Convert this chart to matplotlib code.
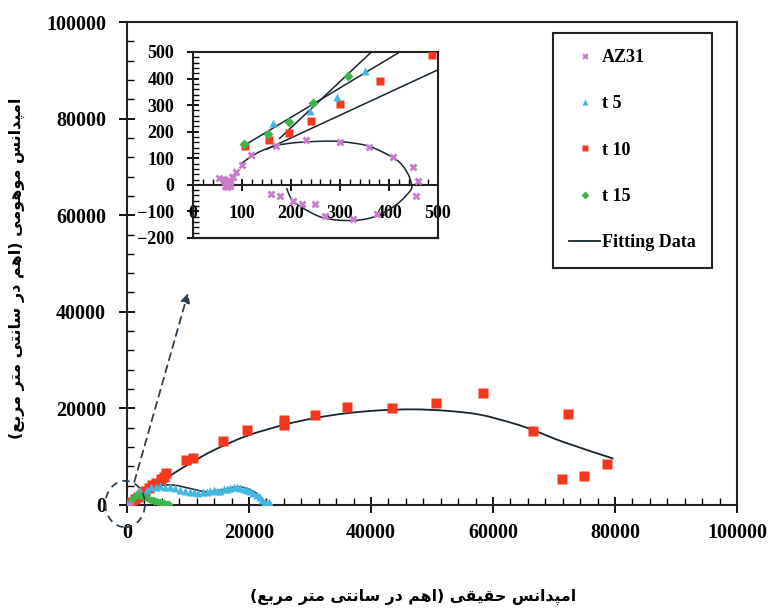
import matplotlib
matplotlib.use("Agg")
import matplotlib.pyplot as plt
from matplotlib.patches import Ellipse, PathPatch
from matplotlib.path import Path
from matplotlib.ticker import MultipleLocator, AutoMinorLocator
from matplotlib.lines import Line2D

# ---------------- data ----------------
az31_x = [54, 62, 65, 66, 68, 70, 71, 72, 73, 75, 75, 76, 79, 82, 88, 99, 119, 170, 231, 301, 360, 409,
          449, 460, 456, 375, 327, 269, 249, 222, 205, 178, 160]
az31_y = [26, 21, 19, -3, 9, -8, 6, 12, -1, 3, 14, -5, 28, 29, 48, 73, 111, 147, 167, 163, 142, 103,
          66, 13, -42, -111, -130, -117, -73, -73, -61, -42, -35]

t5_x = [163, 238, 294, 352, 1500, 2200, 3200, 4000, 4700, 5400, 6200, 7000, 7800, 8700, 9500, 10300,
        11000, 11700, 12400, 13100, 13600, 14200, 14700, 15300, 15900, 16400, 16900, 17500, 18000,
        18500, 19100, 19600, 20200, 20700, 21300, 21800, 22100, 22600, 22900, 23200, 23500]
t5_y = [232, 278, 330, 428, 2200, 2900, 3100, 3700, 3800, 3900, 3800, 3700, 3500, 3200, 3000, 2700,
        2600, 2500, 2700, 2700, 2800, 3100, 3000, 2950, 3300, 3400, 3500, 3800, 3700, 3500, 3400,
        3200, 2800, 2400, 2100, 1600, 1000, 600, 300, 700, 200]

t10_x = [107, 155, 196, 240, 301, 381, 488, 800, 1300, 1800, 2400, 3000, 3600, 4100, 4800, 5500, 6100,
         6400, 9700, 10800, 15700, 19700, 25700, 25700, 30800, 36000, 43400, 50600, 58400, 66600,
         72300, 71300, 74900, 78700]
t10_y = [145, 170, 196, 242, 305, 389, 487, 700, 1200, 1700, 2200, 2800, 3500, 4100, 4500, 5300, 5800,
         6600, 9300, 9700, 13200, 15500, 16500, 17700, 18600, 20200, 20000, 21200, 23100, 15300,
         18800, 5400, 6000, 8500]

t15_x = [105, 153, 196, 245, 317, 600, 900, 1200, 1500, 1800, 2100, 2400, 2700, 3000, 3300, 3600,
         3900, 4200, 4500, 4800, 5100, 5400, 5700, 6000, 6300, 6600, 6900]
t15_y = [152, 192, 236, 309, 410, 900, 1300, 1600, 1900, 2000, 2100, 1900, 1700, 1600, 1400, 1300,
         1100, 1000, 900, 800, 700, 600, 500, 400, 300, 250, 150]

# fitted curves (main plot)
fit10_x = [2000, 4860, 7600, 10870, 14150, 19620, 25740, 30820, 36010, 41480, 46940, 52400, 57870,
           63330, 66610, 71530, 79730]
fit10_y = [2000, 4120, 6500, 9000, 11300, 14300, 16600, 18000, 19000, 19600, 19800, 19500, 18700,
           16900, 15500, 13050, 9600]
fit5_x = [1500, 2130, 4860, 7600, 10330, 13060, 15800, 17980, 19620, 21260, 22350, 22900]
fit5_y = [2200, 2740, 3920, 4120, 3430, 2740, 3230, 3780, 3430, 2400, 1030, 0]

# fitted curves (inset)
fit15_in_x = [106, 422]
fit15_in_y = [150, 500]
fit5_in_x = [177, 364]
fit5_in_y = [175, 500]
fit10_in_x = [150, 500]
fit10_in_y = [134, 433]
fitaz_in_x = [100, 120, 140, 170, 200, 218, 259, 300, 354, 395, 422, 439, 446, 443, 416, 375, 327,
              266, 218, 200, 191]
fitaz_in_y = [82, 108, 128, 148, 157, 160, 164, 163, 148, 116, 84, 40, 0, -23, -73, -117, -134,
              -124, -80, -50, -12]

main_ticks = [0, 20000, 40000, 60000, 80000, 100000]
inset_xticks = [0, 100, 200, 300, 400, 500]
inset_yticks = [-200, -100, 0, 100, 200, 300, 400, 500]
legend_labels = ["AZ31", "t 5", "t 10", "t 15", "Fitting Data"]

xlabel_fa = "امپدانس حقیقی (اهم در سانتی متر مربع)"
ylabel_fa = "امپدانس موهومی (اهم در سانتی متر مربع)"

# ---------------- simple Arabic-script shaping ----------------
AR_FORMS = {
    '\u0627': ('\uFE8D', '\uFE8E', None, None),
    '\u0628': ('\uFE8F', '\uFE90', '\uFE91', '\uFE92'),
    '\u062A': ('\uFE95', '\uFE96', '\uFE97', '\uFE98'),
    '\u062D': ('\uFEA1', '\uFEA2', '\uFEA3', '\uFEA4'),
    '\u062F': ('\uFEA9', '\uFEAA', None, None),
    '\u0631': ('\uFEAD', '\uFEAE', None, None),
    '\u0633': ('\uFEB1', '\uFEB2', '\uFEB3', '\uFEB4'),
    '\u0639': ('\uFEC9', '\uFECA', '\uFECB', '\uFECC'),
    '\u0642': ('\uFED5', '\uFED6', '\uFED7', '\uFED8'),
    '\u0645': ('\uFEE1', '\uFEE2', '\uFEE3', '\uFEE4'),
    '\u0646': ('\uFEE5', '\uFEE6', '\uFEE7', '\uFEE8'),
    '\u0647': ('\uFEE9', '\uFEEA', '\uFEEB', '\uFEEC'),
    '\u0648': ('\uFEED', '\uFEEE', None, None),
    '\u067E': ('\uFB56', '\uFB57', '\uFB58', '\uFB59'),
    '\u06CC': ('\uFBFC', '\uFBFD', '\uFBFE', '\uFBFF'),
}
RIGHT_ONLY = set('\u0627\u062F\u0631\u0648')


def shape_rtl(s):
    out = []
    n = len(s)
    for i, c in enumerate(s):
        if c not in AR_FORMS:
            out.append(c)
            continue
        prev = s[i - 1] if i > 0 else ''
        nxt = s[i + 1] if i < n - 1 else ''
        pj = prev in AR_FORMS and prev not in RIGHT_ONLY
        nj = nxt in AR_FORMS and c not in RIGHT_ONLY
        iso, fin, ini, med = AR_FORMS[c]
        if pj and nj:
            out.append(med)
        elif pj:
            out.append(fin)
        elif nj:
            out.append(ini)
        else:
            out.append(iso)
    vis = ''.join(out)[::-1]
    return vis.translate(str.maketrans('()', ')('))


def smooth_curve(axis, xs, ys, **kw):
    """Draw a smoothed line (like a spreadsheet 'smoothed line') through the given points."""
    pts = list(zip(xs, ys))
    n = len(pts)
    verts = [pts[0]]
    codes = [Path.MOVETO]
    for i in range(n - 1):
        p0 = pts[i - 1] if i > 0 else pts[i]
        p1 = pts[i]
        p2 = pts[i + 1]
        p3 = pts[i + 2] if i + 2 < n else pts[i + 1]
        c1 = (p1[0] + (p2[0] - p0[0]) / 6, p1[1] + (p2[1] - p0[1]) / 6)
        c2 = (p2[0] - (p3[0] - p1[0]) / 6, p2[1] - (p3[1] - p1[1]) / 6)
        verts += [c1, c2, p2]
        codes += [Path.CURVE4] * 3
    patch = PathPatch(Path(verts, codes), fill=False, **kw)
    axis.add_patch(patch)
    return patch


# ---------------- style ----------------
SERIF = ['Liberation Serif', 'DejaVu Serif']
plt.rcParams['font.family'] = SERIF
plt.rcParams['font.weight'] = 'bold'

C_AZ = '#C77DC9'
C_T5 = '#42B7E2'
C_T10 = '#F5371E'
C_T15 = '#3DB64B'
C_FIT = '#16252E'
C_DASH = '#2E4050'

W, H = 778, 611
fig = plt.figure(figsize=(W / 100, H / 100), dpi=100)

# main axes
ax = fig.add_axes([127 / W, 1 - 505 / H, 610 / W, 483 / H])
ax.set_xlim(0, 100000)
ax.set_ylim(0, 100000)
ax.set_xticks(main_ticks)
ax.set_yticks(main_ticks)
ax.xaxis.set_minor_locator(AutoMinorLocator(7))
ax.yaxis.set_minor_locator(AutoMinorLocator(5))
ax.tick_params(which='major', direction='inout', length=12, width=1.3, labelsize=14.5, pad=7)
ax.tick_params(axis='y', which='major', pad=9)
ax.tick_params(which='minor', direction='in', length=5, width=1.0)
for sp in ax.spines.values():
    sp.set_linewidth(1.5)
    sp.set_color('#222222')
for lab in ax.get_xticklabels() + ax.get_yticklabels():
    lab.set_fontweight('bold')

smooth_curve(ax, fit10_x, fit10_y, ec=C_FIT, lw=1.3, zorder=3)
smooth_curve(ax, fit5_x, fit5_y, ec=C_FIT, lw=1.1, zorder=3)
ax.plot(t10_x, t10_y, 's', color=C_T10, ms=6.5, mec='none', zorder=4)
ax.plot(t5_x, t5_y, '^', color=C_T5, ms=5.5, mec='none', zorder=4)
ax.plot(t15_x, t15_y, 'D', color=C_T15, ms=4.5, mec='none', zorder=5)
ax.plot(az31_x, az31_y, 'X', color=C_AZ, ms=5, mec='none', zorder=5)

# dashed circle and arrow
circ = Ellipse((-300, 200), width=6500, height=9600, fill=False, ls=(0, (4, 3)),
               lw=1.3, ec=C_DASH, clip_on=False, zorder=6)
ax.add_patch(circ)
ax.annotate('', xy=(10000, 43900), xytext=(1200, 4800),
            arrowprops=dict(arrowstyle='-|>', ls=(0, (4, 3)), lw=1.3, color=C_DASH,
                            mutation_scale=14, shrinkA=0, shrinkB=0), zorder=6)

# inset
ins = fig.add_axes([193 / W, 1 - 238 / H, 245 / W, 186 / H])
ins.set_xlim(0, 500)
ins.set_ylim(-200, 500)
ins.set_xticks(inset_xticks)
ins.set_yticks(inset_yticks)
ins.xaxis.set_minor_locator(MultipleLocator(20))
ins.yaxis.set_minor_locator(MultipleLocator(20))
ins.spines['bottom'].set_position(('data', 0))
for sp in ins.spines.values():
    sp.set_linewidth(1.5)
    sp.set_color('#222222')
ins.axhline(-200, color='#222222', lw=1.6, clip_on=False, zorder=10)
ins.tick_params(which='major', direction='inout', length=9, width=1.3, labelsize=13)
ins.tick_params(axis='x', which='major', pad=10)
ins.tick_params(axis='y', which='major', pad=9)
ins.tick_params(which='minor', direction='in', length=4, width=1.0)
for lab in ins.get_xticklabels() + ins.get_yticklabels():
    lab.set_fontweight('bold')

ins.plot(fit15_in_x, fit15_in_y, color=C_FIT, lw=1.1, zorder=3)
ins.plot(fit5_in_x, fit5_in_y, color=C_FIT, lw=1.1, zorder=3)
ins.plot(fit10_in_x, fit10_in_y, color=C_FIT, lw=1.1, zorder=3)
smooth_curve(ins, fitaz_in_x, fitaz_in_y, ec=C_FIT, lw=1.1, zorder=3)
ins.plot(t10_x, t10_y, 's', color=C_T10, ms=6, mec='none', zorder=4)
ins.plot(t5_x, t5_y, '^', color=C_T5, ms=6, mec='none', zorder=4)
ins.plot(t15_x, t15_y, 'D', color=C_T15, ms=5, mec='none', zorder=5)
ins.plot(az31_x, az31_y, 'X', color=C_AZ, ms=6, mec='none', zorder=5)

# legend
handles = [
    Line2D([], [], ls='none', marker='X', color=C_AZ, ms=5, mec='none'),
    Line2D([], [], ls='none', marker='^', color=C_T5, ms=5, mec='none'),
    Line2D([], [], ls='none', marker='s', color=C_T10, ms=5, mec='none'),
    Line2D([], [], ls='none', marker='D', color=C_T15, ms=4, mec='none'),
    Line2D([], [], color=C_FIT, lw=1.3),
]
leg = fig.legend(handles, legend_labels, loc='upper left',
                 bbox_to_anchor=(553 / W, 1 - 33 / H), bbox_transform=fig.transFigure,
                 prop=dict(family=SERIF, weight='bold', size=13),
                 frameon=True, fancybox=False, edgecolor='#222222', framealpha=1,
                 labelspacing=1.62, handlelength=1.7, handletextpad=0.1, borderpad=0.9,
                 borderaxespad=0)
leg.get_frame().set_linewidth(1.5)

# axis titles (Persian)
fig.text(413 / W, 1 - 597 / H, shape_rtl(xlabel_fa), ha='center', va='center',
         family=['DejaVu Sans'], weight='bold', size=11.3)
fig.text(17 / W, 1 - 268 / H, shape_rtl(ylabel_fa), ha='center', va='center', rotation=90,
         family=['DejaVu Sans'], weight='bold', size=11.5)

fig.savefig('out.png', dpi=100)
